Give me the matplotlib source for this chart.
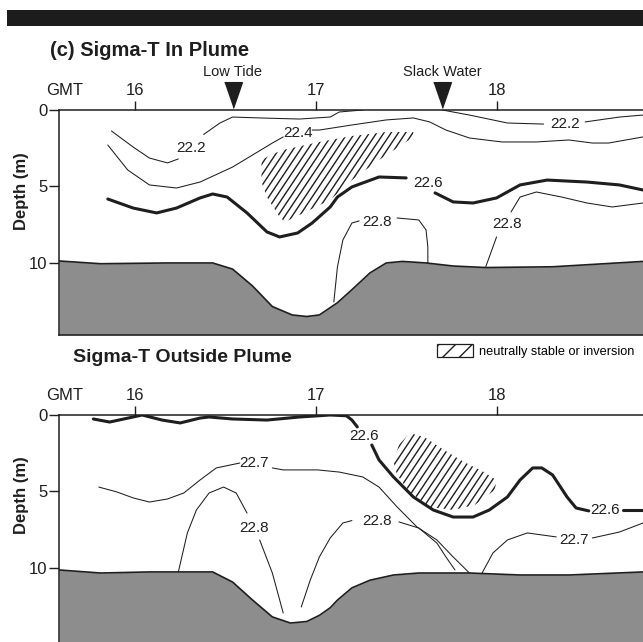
import matplotlib
matplotlib.use("Agg")
import numpy as np
import matplotlib.pyplot as plt
from matplotlib.patches import Polygon, Rectangle, Patch

plt.rcParams['font.family'] = ['Liberation Sans Narrow', 'Liberation Sans', 'DejaVu Sans']

# x = time (GMT hours), d = depth (m)
GMT_TICKS = [16, 17, 18]
DEPTH_TICKS = [0, 5, 10]
X_RANGE = (15.58, 18.81)
EVENT_NAMES = ["Low Tide", "Slack Water"]
EVENT_TIMES = [16.54, 17.70]

# ---- (c) Sigma-T in plume ----
IN_BED_X = [15.58, 15.81, 16.18, 16.43, 16.54, 16.65, 16.76, 16.87, 16.95, 17.02,
            17.12, 17.20, 17.30, 17.39, 17.48, 17.61, 17.76, 17.94, 18.31, 18.81]
IN_BED_D = [9.87, 10.05, 10.0, 10.0, 10.4, 11.5, 12.85, 13.4, 13.5, 13.4,
            12.6, 11.75, 10.65, 10.0, 9.9, 10.0, 10.2, 10.3, 10.25, 9.9]

IN_222A_X = [15.87, 15.99, 16.08, 16.18, 16.24]
IN_222A_D = [1.37, 2.42, 3.14, 3.46, 3.2]
IN_222B_X = [16.38, 16.47, 16.54, 16.69, 16.91, 17.08, 17.13, 17.26]
IN_222B_D = [1.6, 0.85, 0.46, 0.52, 0.59, 0.46, 0.13, 0.0]
IN_222C_X = [17.70, 17.85, 18.06, 18.26]
IN_222C_D = [0.0, 0.33, 0.85, 0.92]
IN_222D_X = [18.49, 18.68, 18.81]
IN_222D_D = [0.78, 0.46, 0.33]

IN_224A_X = [15.85, 15.96, 16.08, 16.23, 16.36, 16.54, 16.76, 16.82]
IN_224A_D = [2.29, 3.92, 4.9, 5.1, 4.71, 3.73, 2.16, 1.76]
IN_224B_X = [16.98, 17.02, 17.20, 17.39, 17.54, 17.63, 17.72, 17.85, 18.03, 18.22,
             18.40, 18.53, 18.62, 18.81]
IN_224B_D = [1.31, 1.31, 0.98, 0.65, 0.52, 0.78, 1.31, 1.83, 2.09, 2.09,
             1.96, 2.16, 2.16, 1.76]

IN_226A_X = [15.85, 15.99, 16.12, 16.23, 16.36, 16.43, 16.51, 16.62, 16.73, 16.80,
             16.90, 16.98, 17.08, 17.12, 17.20, 17.35, 17.50]
IN_226A_D = [5.82, 6.41, 6.73, 6.41, 5.75, 5.49, 5.69, 6.73, 7.97, 8.3,
             8.04, 7.39, 6.34, 5.69, 5.03, 4.38, 4.44]
IN_226B_X = [17.66, 17.76, 17.87, 18.0, 18.13, 18.28, 18.50, 18.68, 18.81]
IN_226B_D = [5.42, 6.01, 6.08, 5.75, 4.9, 4.58, 4.71, 4.9, 5.23]

IN_228A_X = [17.10, 17.12, 17.15, 17.20, 17.24]
IN_228A_D = [12.55, 10.26, 8.5, 7.39, 7.25]
IN_228B_X = [17.45, 17.57, 17.61, 17.62, 17.62]
IN_228B_D = [7.06, 7.19, 7.84, 8.95, 10.0]
IN_228C_X = [17.94, 18.0]
IN_228C_D = [10.26, 8.3]
IN_228D_X = [18.08, 18.13, 18.22, 18.36, 18.50, 18.64, 18.81]
IN_228D_D = [6.67, 5.69, 5.36, 5.69, 6.08, 6.34, 6.08]

IN_LABELS = ["22.2", "22.2", "22.4", "22.6", "22.8", "22.8"]
IN_LABEL_X = [16.31, 18.38, 16.90, 17.62, 17.34, 18.06]
IN_LABEL_D = [2.48, 0.92, 1.5, 4.77, 7.32, 7.45]

IN_HATCH_X = [16.70, 16.70, 16.73, 16.80, 16.83, 16.91, 17.08, 17.20, 17.35, 17.54,
              17.54, 17.39, 17.20, 17.02, 16.82, 16.75]
IN_HATCH_D = [3.27, 4.71, 5.69, 6.99, 7.32, 6.86, 5.88, 4.58, 3.27, 1.76,
              1.44, 1.44, 1.70, 2.09, 2.61, 2.94]

# ---- Sigma-T outside plume ----
OUT_BED_X = [15.58, 15.81, 16.08, 16.43, 16.54, 16.65, 16.76, 16.86, 16.95, 17.02,
             17.08, 17.12, 17.20, 17.30, 17.43, 17.57, 17.85, 18.13, 18.40, 18.81]
OUT_BED_D = [10.13, 10.33, 10.26, 10.26, 10.92, 12.09, 13.2, 13.6, 13.5, 13.1,
             12.6, 12.1, 11.3, 10.8, 10.46, 10.33, 10.33, 10.46, 10.46, 10.26]

OUT_226A_X = [15.77, 15.86, 15.99, 16.04, 16.15, 16.25, 16.36, 16.41, 16.54, 16.73,
              16.91, 17.08, 17.17, 17.20, 17.23]
OUT_226A_D = [0.26, 0.46, 0.13, 0.0, 0.33, 0.52, 0.2, 0.13, 0.26, 0.33,
              0.13, 0.0, 0.05, 0.33, 0.78]
OUT_226B_X = [17.31, 17.35, 17.43, 17.54, 17.65, 17.76, 17.87, 17.96, 18.06, 18.13,
              18.20, 18.25, 18.31, 18.39, 18.44, 18.51]
OUT_226B_D = [1.96, 2.94, 4.05, 5.36, 6.21, 6.67, 6.67, 6.21, 5.36, 4.25,
              3.46, 3.46, 3.92, 5.36, 6.08, 6.27]
OUT_226C_X = [18.70, 18.81]
OUT_226C_D = [6.21, 6.21]

OUT_227A_X = [15.80, 15.90, 15.99, 16.08, 16.18, 16.27, 16.36, 16.45, 16.58]
OUT_227A_D = [4.71, 5.03, 5.42, 5.69, 5.49, 5.10, 4.25, 3.46, 3.14]
OUT_227B_X = [16.76, 16.82, 17.01, 17.13, 17.26, 17.35, 17.45, 17.56, 17.67, 17.76, 17.85]
OUT_227B_D = [3.46, 3.59, 3.59, 3.73, 4.05, 4.71, 6.01, 7.32, 8.17, 9.28, 10.33]
OUT_227C_X = [17.92, 17.98, 18.06, 18.17, 18.33]
OUT_227C_D = [10.33, 9.02, 8.17, 7.71, 7.97]
OUT_227D_X = [18.53, 18.68, 18.81]
OUT_227D_D = [8.04, 7.65, 7.06]

OUT_228A_X = [16.24, 16.29, 16.34, 16.41, 16.49, 16.56, 16.62]
OUT_228A_D = [10.26, 7.71, 6.21, 5.10, 4.71, 5.10, 6.41]
OUT_228B_X = [16.69, 16.76, 16.82]
OUT_228B_D = [8.17, 10.33, 12.94]
OUT_228C_X = [16.92, 16.97, 17.02, 17.08, 17.15, 17.20]
OUT_228C_D = [12.55, 10.78, 9.28, 8.04, 7.06, 6.9]
OUT_228D_X = [17.46, 17.57, 17.67, 17.72, 17.77]
OUT_228D_D = [6.99, 7.39, 8.37, 9.28, 10.13]

OUT_LABELS = ["22.6", "22.6", "22.7", "22.7", "22.8", "22.8"]
OUT_LABEL_X = [17.27, 18.60, 16.66, 18.43, 16.66, 17.34]
OUT_LABEL_D = [1.37, 6.21, 3.14, 8.17, 7.39, 6.93]

OUT_HATCH_X = [17.43, 17.46, 17.52, 17.60, 17.71, 17.82, 17.93, 18.0, 17.99, 17.88,
               17.76, 17.63, 17.52, 17.45]
OUT_HATCH_D = [3.07, 1.96, 1.18, 1.44, 2.29, 3.07, 3.73, 4.25, 4.9, 5.88,
               6.21, 6.01, 5.03, 3.92]

INK = "#1e1e1e"
BED_GRAY = "#8d8d8d"

IN_LINES = [
    (IN_222A_X, IN_222A_D, False), (IN_222B_X, IN_222B_D, False),
    (IN_222C_X, IN_222C_D, False), (IN_222D_X, IN_222D_D, False),
    (IN_224A_X, IN_224A_D, False), (IN_224B_X, IN_224B_D, False),
    (IN_226A_X, IN_226A_D, True), (IN_226B_X, IN_226B_D, True),
    (IN_228A_X, IN_228A_D, False), (IN_228B_X, IN_228B_D, False),
    (IN_228C_X, IN_228C_D, False), (IN_228D_X, IN_228D_D, False),
]
OUT_LINES = [
    (OUT_226A_X, OUT_226A_D, True), (OUT_226B_X, OUT_226B_D, True),
    (OUT_226C_X, OUT_226C_D, True),
    (OUT_227A_X, OUT_227A_D, False), (OUT_227B_X, OUT_227B_D, False),
    (OUT_227C_X, OUT_227C_D, False), (OUT_227D_X, OUT_227D_D, False),
    (OUT_228A_X, OUT_228A_D, False), (OUT_228B_X, OUT_228B_D, False),
    (OUT_228C_X, OUT_228C_D, False), (OUT_228D_X, OUT_228D_D, False),
]


def add_hatch(ax, hx, hd):
    patch = Polygon(np.column_stack([hx, hd]), closed=True, facecolor="none",
                    edgecolor="none", zorder=2)
    ax.add_patch(patch)
    d_top, d_bot = min(hd), max(hd)
    slope = 17.7          # m per hour -> steep "/" strokes on screen
    run = (d_bot - d_top) / slope
    for x0 in np.arange(min(hx) - run, max(hx) + 0.05, 0.04):
        ln, = ax.plot([x0, x0 + run], [d_bot, d_top], color=INK, lw=1.0, zorder=2)
        ln.set_clip_path(patch)


def draw_panel(ax, bed_x, bed_d, lines, labels, lab_x, lab_d, hx, hd, d_max, bottom_spine):
    ax.set_xlim(*X_RANGE)
    ax.set_ylim(d_max, 0)
    ax.fill_between(bed_x, bed_d, d_max, color=BED_GRAY, lw=0, zorder=1)
    ax.plot(bed_x, bed_d, color=INK, lw=1.2, zorder=2)
    for xs, ds, thick in lines:
        ax.plot(xs, ds, color=INK, lw=2.2 if thick else 0.75, zorder=3,
                solid_capstyle="round", solid_joinstyle="round")
    for t, x, d in zip(labels, lab_x, lab_d):
        ax.text(x, d, t, ha="center", va="center", fontsize=11, color=INK, zorder=4)
    add_hatch(ax, hx, hd)

    ax.xaxis.set_ticks_position("top")
    ax.set_xticks(GMT_TICKS)
    ax.set_xticklabels([str(t) for t in GMT_TICKS])
    ax.set_yticks(DEPTH_TICKS)
    ax.tick_params(axis="x", direction="out", length=6.5, width=1, pad=2,
                   labelsize=12, colors=INK)
    ax.tick_params(axis="y", direction="out", length=7, width=1, pad=1.5,
                   labelsize=12, colors=INK)
    ax.spines["right"].set_visible(False)
    ax.spines["bottom"].set_visible(bottom_spine)
    for s in ax.spines.values():
        s.set_linewidth(1.1)
        s.set_color(INK)
    ax.annotate("GMT", xy=(15.61, 1), xycoords=("data", "axes fraction"),
                xytext=(0, 8.5), textcoords="offset points", ha="center", va="bottom",
                fontsize=12, color=INK, annotation_clip=False)


fig = plt.figure(figsize=(6.43, 6.42), dpi=100)
W, H = 643.0, 642.0

ax1 = fig.add_axes([59 / W, 1 - 335 / H, 1 - 59 / W, 225 / H])
draw_panel(ax1, IN_BED_X, IN_BED_D, IN_LINES, IN_LABELS, IN_LABEL_X, IN_LABEL_D,
           IN_HATCH_X, IN_HATCH_D, 14.71, True)

ax2 = fig.add_axes([59 / W, 0, 1 - 59 / W, 227 / H])
draw_panel(ax2, OUT_BED_X, OUT_BED_D, OUT_LINES, OUT_LABELS, OUT_LABEL_X, OUT_LABEL_D,
           OUT_HATCH_X, OUT_HATCH_D, 14.84, False)

# tide events above the top panel
tri = [(-0.69, 1), (0.69, 1), (0, -1)]
for name, t in zip(EVENT_NAMES, EVENT_TIMES):
    ax1.plot([t], [1 + 15 / 225], marker=tri, ms=18.5, color=INK, ls="none",
             transform=ax1.get_xaxis_transform(), clip_on=False)
    ax1.text(t, 1 + 38 / 225, name, transform=ax1.get_xaxis_transform(),
             ha="center", va="center", fontsize=10.5, color=INK)

# header bar and titles
fig.add_artist(Rectangle((7 / W, 1 - 26 / H), 1, 16 / H, transform=fig.transFigure,
                         facecolor="#1c1c1c", edgecolor="none"))
fig.text(50 / W, 1 - 51 / H, "(c) Sigma-T In Plume", fontsize=14.5, fontweight="bold",
         ha="left", va="center", color=INK)
fig.text(73 / W, 1 - 358 / H, "Sigma-T Outside Plume", fontsize=14, fontweight="bold",
         ha="left", va="center", color=INK)
fig.text(22 / W, 1 - 191 / H, "Depth (m)", rotation=90, fontsize=12, fontweight="bold",
         ha="center", va="center", color=INK)
fig.text(22 / W, 1 - 495 / H, "Depth (m)", rotation=90, fontsize=12, fontweight="bold",
         ha="center", va="center", color=INK)

fig.legend(handles=[Patch(facecolor="white", edgecolor=INK, hatch="//", lw=0.9,
                          label="neutrally stable or inversion")],
           loc="center left", bbox_to_anchor=(437 / W, 1 - 351 / H), frameon=False,
           fontsize=9.2, handlelength=2.8, handleheight=1.25, handletextpad=0.5,
           borderpad=0, borderaxespad=0)

fig.savefig("out.png", dpi=100)
